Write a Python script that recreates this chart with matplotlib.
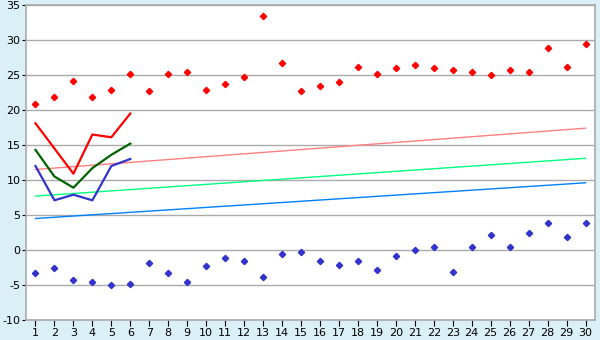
import matplotlib.pyplot as plt
import numpy as np

plt.rcParams['axes.unicode_minus'] = False

# days of month
days = list(range(1, 31))

# daily max / min (diamonds)
tmax = [20.8, 21.8, 24.1, 21.8, 22.9, 25.2, 22.7, 25.2, 25.5, 22.9,
        23.7, 24.7, 33.5, 26.7, 22.7, 23.5, 24.0, 26.2, 25.2, 26.0,
        26.5, 26.0, 25.7, 25.4, 25.0, 25.7, 25.4, 28.8, 26.2, 29.4]
tmin = [-3.3, -2.5, -4.3, -4.6, -5.0, -4.8, -1.8, -3.3, -4.5, -2.3,
        -1.1, -1.6, -3.9, -0.5, -0.3, -1.5, -2.1, -1.5, -2.8, -0.9,
        0.0, 0.5, -3.1, 0.4, 2.1, 0.4, 2.4, 3.9, 1.9, 3.9]

# first days, three lines
first_days = [1, 2, 3, 4, 5, 6]
line_red = [18.1, 14.5, 10.9, 16.5, 16.1, 19.5]
line_green = [14.3, 10.5, 8.9, 11.7, 13.6, 15.2]
line_blue = [12.0, 7.1, 7.9, 7.1, 12.0, 13.0]

# normal lines, value at day 1 and day 30
norm_days = [1, 30]
norm_red = [11.5, 17.4]
norm_green = [7.7, 13.1]
norm_blue = [4.5, 9.6]

fig = plt.figure(figsize=(6, 3.4), dpi=100)
fig.patch.set_facecolor('#daeff6')
ax = fig.add_axes([26/600, 20/340, 569/600, 315/340])
ax.set_facecolor('white')

ax.set_xlim(0.5, 30.5)
ax.set_ylim(-10, 35)
ax.set_yticks(np.arange(-10, 36, 5))
ax.set_xticks(days)
ax.grid(axis='y', color='#aaaaaa', linewidth=1)
ax.set_axisbelow(True)

ax.plot(norm_days, norm_red, color='#ff8080', lw=1)
ax.plot(norm_days, norm_green, color='#00ff80', lw=1)
ax.plot(norm_days, norm_blue, color='#0080ff', lw=1)

ax.plot(first_days, line_red, color='#ff0000', lw=1.6)
ax.plot(first_days, line_green, color='#006400', lw=1.6)
ax.plot(first_days, line_blue, color='#3333cc', lw=1.6)

ax.plot(days, tmax, 'D', color='#ff0000', ms=3.2, ls='none')
ax.plot(days, tmin, 'D', color='#3333cc', ms=3.2, ls='none')

for s in ax.spines.values():
    s.set_color('#aaaaaa')
    s.set_linewidth(1.2)
ax.tick_params(axis='x', direction='out', length=4, color='black', labelsize=8, pad=2)
ax.tick_params(axis='y', direction='out', length=3, color='black', labelsize=8, pad=1)

plt.savefig('out.png', dpi=100, facecolor=fig.get_facecolor())
